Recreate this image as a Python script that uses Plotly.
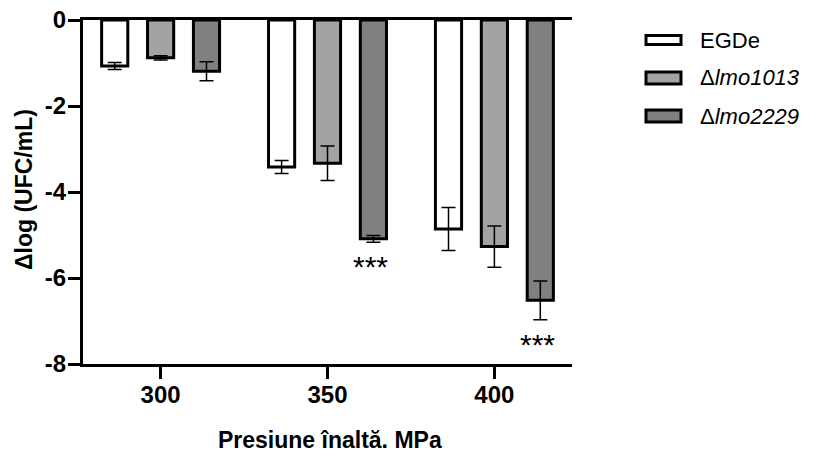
import plotly.graph_objects as go

# Pressure levels (x categories) and strains (bar series)
pressures = ["300", "350", "400"]
strain_names = ["EGDe", "Δlmo1013", "Δlmo2229"]
legend_labels = ["EGDe", "Δ<i>lmo1013</i>", "Δ<i>lmo2229</i>"]

# Mean Δlog reduction and error (SD) per pressure
egde_mean = [-1.07, -3.42, -4.86]
egde_err = [0.08, 0.15, 0.50]
lmo1013_mean = [-0.88, -3.33, -5.27]
lmo1013_err = [0.05, 0.40, 0.48]
lmo2229_mean = [-1.19, -5.09, -6.52]
lmo2229_err = [0.22, 0.08, 0.45]

# Significance marks for Δlmo2229 vs EGDe
lmo2229_signif = ["", "***", "***"]

y_ticks = [0, -2, -4, -6, -8]
y_ticktext = ["0", "-2", "-4", "-6", "-8"]

x_title = "Presiune înaltă. MPa"
y_title = "Δlog (UFC/mL)"

means = [egde_mean, lmo1013_mean, lmo2229_mean]
errs = [egde_err, lmo1013_err, lmo2229_err]
fills = ["#FFFFFF", "#A3A3A6", "#808080"]

FONT = "Arial, Liberation Sans, sans-serif"
BARGAP = 0.175
BARGROUPGAP = 0.43

# plot area in pixels
W, H = 814, 452
L, R, T, B = 83, 242, 20, 88


def px_x(p):
    return (p - L) / (W - L - R)


def px_y(p):
    return (H - B - p) / (H - T - B)


fig = go.Figure()
for name, m, e, c in zip(strain_names, means, errs, fills):
    fig.add_trace(go.Bar(
        name=name,
        x=pressures,
        y=m,
        marker=dict(color=c, line=dict(color="black", width=3)),
        error_y=dict(type="data", array=e, visible=True, color="black",
                     thickness=1.5, width=7),
        showlegend=False,
    ))

annotations = []
# significance stars beneath the Δlmo2229 bars
slot = (1 - BARGAP) / 3
for i, s in enumerate(lmo2229_signif):
    if s:
        annotations.append(dict(
            x=i + slot, y=lmo2229_mean[i] - lmo2229_err[i],
            xref="x", yref="y", text=s, showarrow=False,
            yanchor="top", yshift=-6, xshift=-3,
            font=dict(family=FONT, size=30, color="black"),
        ))

# hand-built legend with wide swatches
shapes = []
legend_rows = [40, 78, 116]
swatch_h = [9, 12, 12]
for lbl, c, yc, h in zip(legend_labels, fills, legend_rows, swatch_h):
    shapes.append(dict(
        type="rect", xref="paper", yref="paper",
        x0=px_x(646), x1=px_x(681),
        y0=px_y(yc + h / 2), y1=px_y(yc - h / 2),
        line=dict(color="black", width=3), fillcolor=c,
    ))
    annotations.append(dict(
        x=px_x(698), y=px_y(yc), xref="paper", yref="paper",
        text=lbl, showarrow=False, xanchor="left", yanchor="middle",
        font=dict(family=FONT, size=22, color="black"),
    ))

# axis titles
title_font = dict(family=FONT, size=23, weight="bold", color="black")
annotations.append(dict(
    x=px_x(330), y=px_y(440), xref="paper", yref="paper",
    text=x_title, showarrow=False, xanchor="center", yanchor="middle",
    font=title_font,
))
annotations.append(dict(
    x=px_x(24), y=px_y(190), xref="paper", yref="paper",
    text=y_title, showarrow=False, textangle=-90,
    xanchor="center", yanchor="middle", font=title_font,
))

tick_font = dict(family=FONT, size=24, weight="bold", color="black")

fig.update_layout(
    width=W, height=H,
    margin=dict(l=L, r=R, t=T, b=B, pad=0),
    paper_bgcolor="white", plot_bgcolor="white",
    barmode="group", bargap=BARGAP, bargroupgap=BARGROUPGAP,
    font=dict(family=FONT, color="black"),
    annotations=annotations,
    shapes=shapes,
    xaxis=dict(
        type="category", range=[-0.465, 2.465], automargin=False,
        showline=True, mirror=True, linecolor="black", linewidth=3,
        ticks="outside", ticklen=12, tickwidth=3, tickcolor="black",
        tickfont=tick_font, ticklabelstandoff=-5,
        showgrid=False, zeroline=False,
    ),
    yaxis=dict(
        range=[-8, 0], tickmode="array", tickvals=y_ticks, ticktext=y_ticktext,
        automargin=False,
        showline=True, linecolor="black", linewidth=3,
        ticks="outside", ticklen=12, tickwidth=3, tickcolor="black",
        tickfont=tick_font, ticklabelstandoff=-3,
        showgrid=False, zeroline=False,
    ),
)

fig.write_html("out.html")
